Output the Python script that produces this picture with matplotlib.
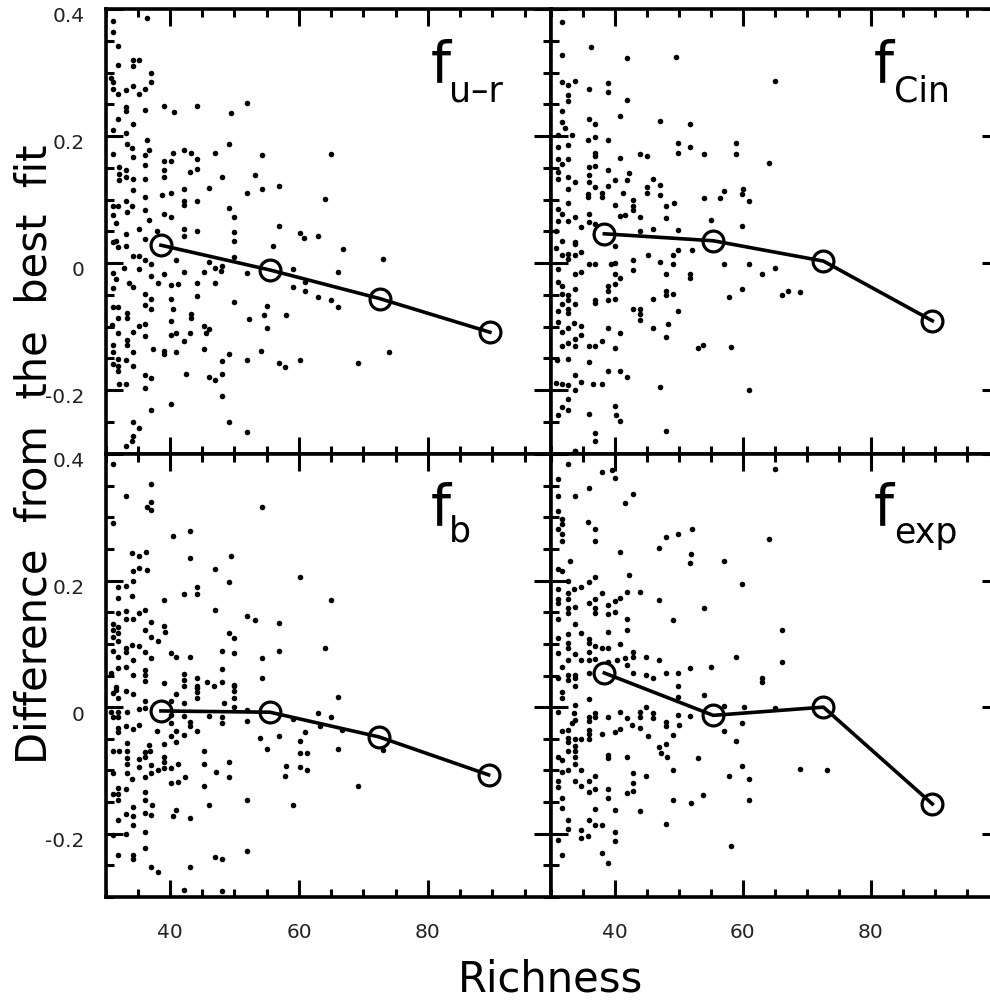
"""Four-panel richness vs. difference-from-best-fit scatter, with binned means."""

import matplotlib
matplotlib.use("Agg")
import matplotlib.pyplot as plt
import numpy as np
from matplotlib.ticker import MultipleLocator
from matplotlib.transforms import ScaledTranslation

# binned means, same four richness bins in every panel
ur_bin_x = [38.6, 55.5, 72.5, 89.6]
ur_bin_y = [0.028, -0.011, -0.056, -0.109]
cin_bin_x = [38.4, 55.4, 72.6, 89.6]
cin_bin_y = [0.046, 0.035, 0.003, -0.091]
b_bin_x = [38.6, 55.5, 72.4, 89.4]
b_bin_y = [-0.006, -0.008, -0.047, -0.107]
exp_bin_x = [38.4, 55.4, 72.6, 89.6]
exp_bin_y = [0.054, -0.013, 0.0, -0.153]

# individual clusters as (richness, difference)
ur_points = [
    (31.1, .381), (31.2, .364), (32.0, .342), (36.5, .386), (32.0, .312), (34.2, .311), (35.2, .319), (34.2, .319),
    (37.0, .299), (37.0, .285), (30.8, .292), (31.1, .285), (31.1, .274), (32.0, .266), (33.2, .273), (34.2, .279),
    (35.2, .266), (36.2, .274), (33.2, .245), (33.2, .239), (36.2, .241), (39.1, .248), (40.6, .238), (44.2, .248),
    (49.5, .236), (52.0, .252), (32.0, .226), (34.2, .219), (31.2, .209), (33.2, .204), (36.5, .194), (33.4, .188),
    (34.1, .181), (36.8, .178), (36.2, .170), (31.2, .172), (34.2, .167), (40.4, .174), (42.2, .178), (43.2, .174),
    (47.0, .174), (49.2, .188), (54.2, .170), (64.9, .172), (39.1, .160), (40.1, .161), (44.2, .164), (36.2, .155),
    (32.1, .151), (32.1, .140), (32.1, .130), (33.2, .146), (33.2, .135), (34.2, .132), (36.2, .132), (39.1, .146),
    (39.1, .135), (43.1, .143), (44.2, .148), (48.0, .135), (53.2, .139), (46.1, .118), (34.2, .115), (42.2, .116),
    (56.9, .121), (54.2, .116), (52.0, .111), (40.1, .111), (38.8, .107), (36.2, .104), (33.2, .098), (42.2, .098),
    (42.2, .091), (44.2, .097), (64.1, .101), (31.1, .090), (32.0, .090), (34.1, .090), (49.2, .087), (36.2, .083),
    (33.4, .080), (39.1, .077), (40.1, .072), (50.0, .072), (31.2, .075), (36.8, .067), (31.6, .063), (35.2, .054),
    (56.9, .059), (33.2, .046), (38.0, .051), (42.2, .054), (44.2, .051), (42.2, .043), (50.0, .049), (60.1, .048),
    (60.8, .039), (63.0, .043), (36.2, .038), (31.6, .034), (50.0, .034), (31.1, .033), (32.0, .025), (33.2, .026),
    (55.9, .027), (66.9, .022), (34.2, .011), (35.2, .011), (36.2, .004), (40.9, .004), (46.1, .001), (50.0, .009),
    (73.0, .006), (48.1, -.004), (37.0, -.002), (32.9, -.008), (35.2, -.009), (31.1, -.015), (47.0, -.008),
    (47.9, -.012), (42.2, -.014), (45.2, -.014), (52.0, -.015), (59.0, -.010), (66.0, -.014), (39.1, -.017),
    (37.0, -.020), (31.6, -.025), (33.7, -.032), (34.2, -.038), (31.2, -.040), (38.1, -.032), (40.1, -.035),
    (41.2, -.033), (44.2, -.031), (47.0, -.031), (61.0, -.030), (59.0, -.038), (61.0, -.044), (36.2, -.049),
    (37.0, -.057), (40.1, -.057), (44.2, -.052), (63.0, -.053), (65.0, -.058), (50.0, -.061), (55.1, -.067),
    (66.0, -.070), (31.1, -.070), (32.0, -.070), (36.2, -.066), (37.0, -.072), (40.4, -.072), (33.3, -.078),
    (33.3, -.086), (32.0, -.086), (43.2, -.080), (43.2, -.086), (54.5, -.082), (58.0, -.082), (52.3, -.088),
    (40.1, -.091), (36.2, -.096), (35.2, -.099), (31.0, -.097), (45.2, -.099), (46.1, -.104), (55.1, -.103),
    (34.2, -.108), (32.0, -.110), (45.6, -.111), (40.1, -.113), (41.0, -.111), (43.1, -.111), (36.2, -.115),
    (33.3, -.121), (33.3, -.129), (42.2, -.123), (31.2, -.129), (37.3, -.135), (45.2, -.135), (39.1, -.138),
    (39.1, -.144), (41.0, -.140), (34.2, -.140), (31.2, -.140), (54.1, -.138), (74.0, -.140), (49.2, -.143),
    (32.0, -.151), (33.2, -.152), (52.0, -.153), (60.1, -.153), (48.0, -.155), (31.1, -.159), (32.0, -.162),
    (34.2, -.162), (56.9, -.158), (57.9, -.163), (69.1, -.157), (32.0, -.170), (42.5, -.175), (36.2, -.177),
    (37.0, -.181), (48.0, -.175), (46.1, -.179), (47.0, -.185), (32.1, -.190), (33.2, -.191), (36.2, -.197),
    (48.0, -.209), (40.1, -.222), (37.0, -.232), (34.2, -.251), (49.2, -.251), (35.2, -.260), (52.0, -.266),
    (34.2, -.273), (34.1, -.281), (33.2, -.288),
]
cin_points = [
    (31.8, .379), (36.3, .340), (31.8, .328), (41.9, .323), (49.6, .325), (31.8, .285), (32.8, .280), (33.9, .286),
    (36.0, .274), (39.0, .283), (39.0, .270), (65.0, .286), (32.7, .265), (32.7, .255), (41.9, .257), (31.8, .239),
    (40.9, .231), (36.0, .227), (36.9, .219), (47.1, .224), (51.8, .219), (31.8, .222), (32.2, .213), (31.2, .201),
    (33.4, .201), (37.0, .198), (35.8, .193), (39.0, .193), (49.9, .189), (58.9, .189), (31.2, .182), (32.7, .186),
    (51.8, .183), (49.9, .174), (58.9, .172), (36.9, .174), (36.9, .168), (43.9, .171), (45.0, .169), (53.9, .171),
    (40.9, .165), (31.1, .164), (32.7, .163), (31.8, .156), (64.1, .158), (36.0, .151), (37.0, .152), (39.0, .146),
    (31.2, .143), (42.2, .142), (36.0, .138), (31.2, .132), (32.7, .135), (36.0, .127), (33.9, .127), (40.0, .130),
    (41.9, .131), (46.0, .132), (32.7, .117), (36.9, .120), (39.0, .122), (47.1, .123), (45.0, .120), (45.0, .110),
    (38.0, .111), (41.3, .111), (35.8, .109), (35.8, .104), (38.1, .104), (47.1, .107), (53.9, .102), (56.5, .102),
    (57.1, .113), (60.0, .117), (59.9, .109), (61.0, .098), (42.9, .099), (32.7, .095), (40.1, .092), (49.2, .095),
    (48.0, .089), (42.8, .090), (31.2, .085), (31.8, .077), (42.8, .083), (36.0, .077), (41.7, .076), (40.9, .074),
    (43.9, .072), (48.0, .071), (33.9, .072), (32.7, .066), (31.2, .066), (55.1, .067), (36.0, .064), (59.9, .059),
    (34.8, .056), (37.0, .062), (43.9, .051), (46.0, .053), (49.9, .052), (30.8, .051), (31.8, .034), (33.9, .033),
    (33.9, .030), (40.0, .027), (30.8, .024), (31.8, .013), (32.8, .014), (32.8, .006), (33.9, .013), (34.8, .017),
    (49.9, .021), (52.1, .021), (45.2, .013), (49.1, .013), (42.8, .005), (47.1, .002), (36.0, -.001), (36.9, -.002),
    (39.4, -.002), (40.1, .000), (49.1, -.002), (57.1, -.001), (61.0, -.001), (65.0, -.008), (31.1, -.009),
    (42.8, -.011), (34.8, -.014), (33.8, -.017), (48.0, -.017), (51.8, -.017), (51.8, -.024), (63.0, -.017),
    (40.1, -.017), (40.8, -.023), (31.2, -.030), (31.8, -.036), (40.1, -.033), (38.9, -.037), (38.9, -.044),
    (33.9, -.041), (59.9, -.041), (67.1, -.044), (69.0, -.046), (48.0, -.044), (48.0, -.050), (49.1, -.049),
    (66.1, -.050), (57.9, -.054), (31.8, -.049), (32.7, -.051), (32.7, -.059), (36.9, -.058), (36.9, -.063),
    (38.9, -.058), (40.1, -.057), (46.0, -.057), (33.9, -.065), (31.8, -.065), (31.1, -.076), (32.7, -.072),
    (32.7, -.078), (42.8, -.073), (43.9, -.072), (43.9, -.080), (49.9, -.076), (43.9, -.090), (31.2, -.093),
    (33.6, -.094), (34.8, -.099), (32.7, -.103), (38.9, -.103), (46.0, -.103), (48.3, -.096), (31.8, -.108),
    (40.9, -.111), (34.8, -.114), (33.9, -.119), (48.0, -.117), (38.1, -.123), (32.7, -.126), (31.8, -.130),
    (33.9, -.131), (36.0, -.131), (36.9, -.130), (53.8, -.129), (53.0, -.134), (58.2, -.132), (40.0, -.134),
    (32.7, -.151), (31.0, -.153), (36.0, -.156), (38.9, -.170), (40.9, -.170), (41.9, -.179), (33.8, -.177),
    (34.8, -.188), (30.8, -.189), (31.8, -.191), (32.8, -.192), (36.6, -.191), (38.0, -.191), (47.1, -.195),
    (33.8, -.200), (61.0, -.200), (32.7, -.214), (31.8, -.226), (32.7, -.231), (40.0, -.225), (31.1, -.239),
    (36.0, -.238), (40.2, -.239), (40.9, -.249), (37.0, -.267), (48.0, -.264), (36.9, -.280), (33.8, -.296),
]
b_points = [
    (31.2, .384), (37.0, .352), (33.2, .333), (37.0, .324), (36.5, .316), (37.0, .312), (54.2, .316), (31.2, .291),
    (43.1, .278), (40.5, .270), (36.3, .245), (34.1, .243), (35.2, .239), (49.5, .239), (43.1, .236), (35.2, .220),
    (34.2, .215), (36.4, .217), (47.0, .219), (60.1, .206), (34.2, .199), (49.2, .197), (32.0, .190), (33.2, .191),
    (44.2, .190), (32.0, .173), (34.1, .176), (42.2, .179), (44.2, .179), (39.0, .169), (64.9, .169), (36.2, .154),
    (47.0, .154), (32.0, .149), (33.2, .152), (35.2, .148), (33.2, .139), (34.2, .139), (52.0, .144), (53.2, .137),
    (56.9, .133), (31.2, .132), (32.0, .127), (31.2, .122), (32.0, .117), (31.2, .111), (37.0, .135), (39.0, .129),
    (36.2, .122), (39.3, .119), (37.0, .111), (49.2, .117), (50.0, .109), (38.1, .104), (32.0, .105), (34.1, .098),
    (35.2, .097), (33.2, .093), (33.2, .087), (31.2, .088), (36.2, .087), (40.1, .085), (41.0, .079), (43.1, .079),
    (48.0, .089), (50.0, .085), (56.9, .089), (64.0, .094), (32.0, .079), (37.0, .077), (34.2, .074), (54.2, .078),
    (32.0, .062), (33.2, .064), (36.2, .059), (48.0, .060), (42.2, .053), (30.8, .054), (34.2, .051), (36.2, .051),
    (42.2, .043), (44.2, .046), (36.2, .041), (39.0, .038), (45.8, .039), (48.0, .039), (54.2, .046), (42.2, .034),
    (44.2, .033), (46.8, .034), (50.0, .034), (31.6, .032), (31.6, .027), (33.2, .026), (34.2, .020), (31.1, .022),
    (32.0, .015), (41.0, .021), (44.2, .030), (44.2, .024), (44.2, .014), (50.0, .035), (50.0, .025), (50.0, .014),
    (50.0, .001), (66.0, .016), (36.2, .009), (40.1, .010), (42.2, .007), (48.4, .007), (35.2, -.003), (36.2, -.001),
    (30.8, -.007), (32.0, -.007), (33.3, -.008), (31.1, -.015), (32.0, -.015), (40.1, -.012), (42.2, -.014),
    (46.1, -.014), (48.0, -.015), (48.0, -.025), (52.0, -.004), (52.0, -.022), (63.0, -.009), (65.0, -.015),
    (59.0, -.018), (40.1, -.025), (43.1, -.023), (43.1, -.030), (63.2, -.030), (33.2, -.030), (34.2, -.035),
    (35.2, -.029), (32.0, -.033), (32.0, -.039), (38.0, -.037), (41.0, -.037), (44.2, -.037), (61.0, -.039),
    (42.2, -.044), (40.1, -.046), (56.9, -.046), (54.0, -.049), (41.0, -.055), (60.1, -.054), (39.0, -.058),
    (66.7, -.036), (33.3, -.057), (36.8, -.060), (55.1, -.066), (66.0, -.066), (73.0, -.067), (31.1, -.069),
    (32.1, -.070), (33.3, -.070), (36.2, -.071), (36.9, -.070), (45.2, -.070), (60.1, -.072), (61.2, -.072),
    (33.3, -.080), (35.2, -.082), (36.2, -.079), (39.0, -.078), (39.0, -.087), (45.2, -.090), (49.1, -.087),
    (33.3, -.090), (41.2, -.090), (37.0, -.092), (58.0, -.093), (35.2, -.095), (40.1, -.096), (38.1, -.099),
    (39.1, -.096), (60.1, -.095), (61.2, -.099), (31.1, -.104), (33.3, -.104), (37.0, -.104), (47.1, -.103),
    (36.2, -.110), (42.4, -.110), (49.1, -.110), (57.9, -.109), (34.1, -.114), (40.1, -.120), (41.2, -.119),
    (45.2, -.125), (69.1, -.125), (33.2, -.130), (32.0, -.128), (32.0, -.138), (31.1, -.138), (36.2, -.134),
    (36.2, -.146), (52.0, -.146), (32.0, -.146), (37.2, -.155), (46.1, -.155), (59.0, -.155), (34.2, -.158),
    (41.0, -.163), (33.2, -.169), (36.2, -.168), (37.0, -.170), (34.2, -.172), (40.5, -.172), (43.1, -.175),
    (32.0, -.179), (34.2, -.187), (36.2, -.198), (31.1, -.202), (33.2, -.200), (36.2, -.222), (32.0, -.233),
    (34.2, -.233), (34.2, -.240), (47.0, -.237), (48.0, -.240), (52.0, -.227), (37.0, -.252), (43.1, -.252),
    (38.1, -.261), (42.2, -.289), (48.0, -.290),
]
exp_points = [
    (33.9, .405), (32.7, .384), (38.1, .372), (39.6, .375), (65.0, .377), (40.0, .362), (31.1, .360), (36.0, .347),
    (42.9, .337), (31.1, .333), (33.8, .333), (41.7, .322), (31.1, .310), (31.8, .297), (31.8, .290), (35.8, .292),
    (31.1, .281), (36.9, .281), (52.1, .281), (31.8, .273), (31.8, .263), (36.9, .263), (49.9, .273), (48.0, .269),
    (64.1, .266), (47.0, .252), (40.9, .245), (51.9, .242), (33.1, .231), (51.8, .227), (57.1, .231), (31.1, .219),
    (31.8, .215), (36.9, .206), (42.2, .209), (32.8, .199), (36.0, .197), (34.8, .190), (33.6, .186), (59.9, .195),
    (31.1, .186), (32.7, .181), (41.9, .182), (43.9, .182), (38.0, .180), (40.9, .173), (31.1, .171), (31.1, .165),
    (32.7, .171), (36.9, .171), (40.0, .167), (47.0, .169), (36.0, .164), (38.9, .162), (32.7, .157), (32.7, .148),
    (33.9, .159), (36.9, .156), (36.9, .148), (53.9, .156), (38.9, .147), (40.1, .150), (31.1, .140), (41.9, .140),
    (49.1, .138), (33.9, .131), (34.8, .117), (32.8, .116), (38.9, .119), (41.9, .122), (66.1, .122), (31.1, .110),
    (36.0, .108), (36.0, .101), (32.7, .101), (32.7, .094), (40.9, .100), (36.9, .097), (38.0, .093), (38.9, .093),
    (31.1, .085), (33.8, .084), (36.0, .087), (42.8, .087), (32.7, .074), (34.8, .075), (36.0, .075), (36.9, .076),
    (38.9, .072), (40.4, .075), (41.7, .078), (42.8, .080), (44.9, .080), (47.0, .075), (58.9, .079), (66.1, .072),
    (41.9, .066), (51.8, .062), (55.1, .063), (31.8, .063), (36.0, .054), (42.8, .054), (48.0, .054), (49.9, .054),
    (44.9, .051), (46.0, .046), (32.7, .051), (33.9, .051), (32.7, .043), (33.9, .046), (31.1, .046), (63.0, .046),
    (63.0, .039), (33.8, .034), (49.9, .034), (54.0, .019), (31.8, .024), (31.8, .014), (36.0, .013), (49.9, .016),
    (33.9, .003), (44.9, .001), (57.1, .002), (60.2, .001), (65.1, -.002), (31.1, -.007), (36.9, -.009), (36.9, -.016),
    (33.7, -.010), (40.9, -.008), (43.9, -.007), (43.9, -.015), (46.0, -.009), (46.0, -.017), (49.9, -.012),
    (51.7, -.014), (38.9, -.015), (41.9, -.017), (36.0, -.016), (36.0, -.022), (33.9, -.020), (33.4, -.025),
    (48.0, -.024), (48.0, -.030), (50.0, -.029), (59.9, -.025), (42.7, -.028), (43.9, -.033), (32.8, -.036),
    (31.8, -.037), (36.0, -.036), (40.9, -.035), (40.0, -.039), (57.1, -.037), (38.0, -.042), (36.0, -.043),
    (49.1, -.044), (45.2, -.046), (32.8, -.049), (32.8, -.055), (33.9, -.050), (34.8, -.050), (36.0, -.050),
    (58.9, -.054), (48.0, -.058), (46.9, -.063), (33.9, -.062), (32.7, -.069), (33.9, -.070), (47.2, -.073),
    (38.9, -.076), (38.9, -.080), (41.9, -.078), (48.2, -.078), (53.0, -.080), (31.1, -.078), (31.8, -.083),
    (33.9, -.079), (33.9, -.090), (59.9, -.093), (32.7, -.099), (34.8, -.099), (31.8, -.102), (49.1, -.099),
    (69.0, -.097), (73.1, -.099), (42.8, -.104), (36.9, -.109), (44.9, -.109), (57.9, -.109), (33.8, -.116),
    (36.0, -.116), (31.1, -.117), (61.0, -.113), (42.8, -.120), (31.1, -.126), (34.8, -.125), (36.9, -.129),
    (38.9, -.130), (42.8, -.132), (36.0, -.134), (41.9, -.135), (53.8, -.139), (31.8, -.143), (38.9, -.144),
    (49.1, -.147), (61.0, -.146), (51.9, -.152), (31.8, -.159), (36.9, -.161), (40.1, -.163), (43.9, -.164),
    (32.8, -.178), (36.0, -.178), (48.0, -.184), (37.0, -.187), (38.0, -.187), (32.7, -.193), (34.8, -.194),
    (40.1, -.198), (35.9, -.204), (34.8, -.206), (31.1, -.210), (40.1, -.212), (58.2, -.219), (31.8, -.233),
    (38.0, -.230), (38.9, -.247),
]

W, H = 990, 1003


def add_panel(fig, left, top, right, bottom, x_max):
    ax = fig.add_axes([left / W, 1 - bottom / H, (right - left) / W, (bottom - top) / H])
    ax.set_xlim(30, x_max)
    ax.set_ylim(-0.3, 0.4)
    ax.xaxis.set_major_locator(MultipleLocator(20))
    ax.xaxis.set_minor_locator(MultipleLocator(5))
    ax.yaxis.set_major_locator(MultipleLocator(0.2))
    ax.yaxis.set_minor_locator(MultipleLocator(0.05))
    ax.tick_params(which="major", direction="in", top=True, right=True, length=12, width=2.2)
    ax.tick_params(which="minor", direction="in", top=True, right=True, length=5.5, width=2.2)
    for s in ax.spines.values():
        s.set_linewidth(2.6)
    return ax


def draw(ax, points, bin_x, bin_y):
    pts = np.array(points)
    ax.plot(pts[:, 0], pts[:, 1], "o", color="k", ms=4, mew=0, clip_on=False)
    ax.plot(bin_x, bin_y, "-", color="k", lw=2.6)
    ax.plot(bin_x, bin_y, "o", mfc="none", mec="k", ms=15, mew=2.3)


def panel_label(fig, x, y, sub_x, sub_y, sub):
    fig.text(x / W, 1 - y / H, "f", fontsize=41, ha="left", va="baseline")
    fig.text(sub_x / W, 1 - sub_y / H, sub, fontsize=25, ha="left", va="baseline")


plt.rcParams["font.family"] = "DejaVu Sans"
fig = plt.figure(figsize=(W / 100, H / 100), dpi=100)

ax_ur = add_panel(fig, 105.5, 10, 550.5, 454.5, 99)
ax_cin = add_panel(fig, 550.5, 10, 999, 454.5, 100)
ax_b = add_panel(fig, 105.5, 455, 550.5, 898, 99)
ax_exp = add_panel(fig, 550.5, 455, 999, 898, 100)

draw(ax_ur, ur_points, ur_bin_x, ur_bin_y)
draw(ax_cin, cin_points, cin_bin_x, cin_bin_y)
draw(ax_b, b_points, b_bin_x, b_bin_y)
draw(ax_exp, exp_points, exp_bin_x, exp_bin_y)

for ax in (ax_ur, ax_cin):
    ax.tick_params(labelbottom=False)
for ax in (ax_cin, ax_exp):
    ax.tick_params(labelleft=False)

# tick labels sit a little under their ticks in the original
shift = ScaledTranslation(0, -5 / 100, fig.dpi_scale_trans)
for ax in (ax_ur, ax_b):
    ax.set_yticks([-0.2, 0, 0.2, 0.4], ["-0.2", "0", "0.2", "0.4"])
    ax.tick_params(axis="y", which="major", pad=15, labelsize=14.5, labelcolor="#222222")
    for lab in ax.get_yticklabels():
        lab.set_transform(lab.get_transform() + shift)
for ax in (ax_b, ax_exp):
    ax.set_xticks([40, 60, 80], ["40", "60", "80"])
    ax.tick_params(axis="x", which="major", pad=18, labelsize=14.5, labelcolor="#222222")

panel_label(fig, 431, 81, 449, 102, "u–r")
panel_label(fig, 874, 81, 894, 101, "Cin")
panel_label(fig, 431, 524, 449, 542, "b")
panel_label(fig, 874, 524, 894, 543, "exp")

fig.text(550 / W, 1 - 992 / H, "Richness", fontsize=30, ha="center", va="baseline")
# wide word gaps as in the original
fig.text(35 / W, 1 - 454 / H, "Difference  from  the  best  fit", fontsize=30, rotation=90,
         ha="center", va="center")

fig.savefig("out.png", dpi=100)
